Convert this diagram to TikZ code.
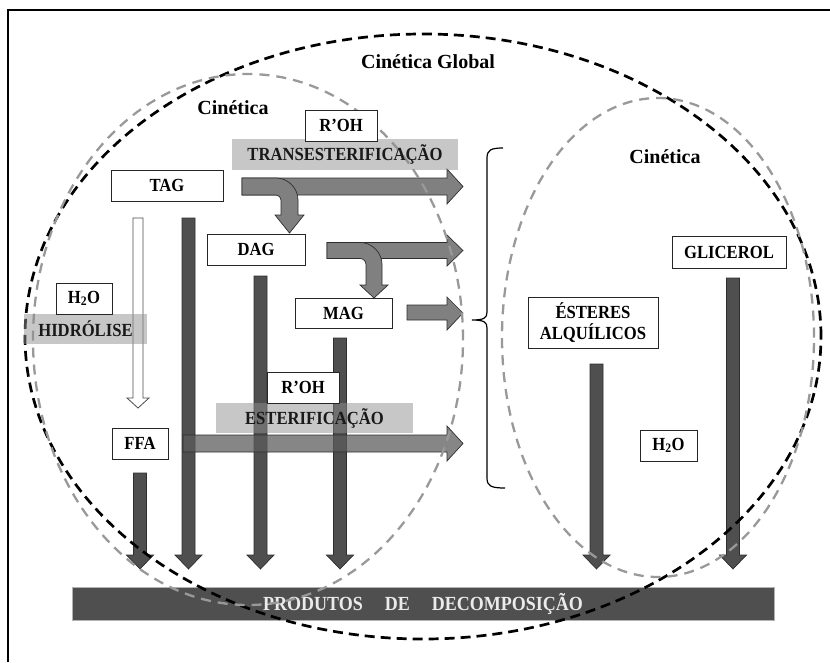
\documentclass[tikz,border=0pt]{standalone}
\usepackage{fontspec}
\setmainfont{Liberation Serif}
\newfontfamily\condf{Liberation Serif}[FakeStretch=0.9]
\newcommand\bxf{\condf\fontsize{18.5}{20.5}\selectfont\bfseries}
\newcommand\DownBar[2]{\draw[darkarrow] ({#1-6.5},#2) -- ({#1+6.5},#2) -- ({#1+6.5},555) -- ({#1+13.5},555) -- (#1,569) -- ({#1-13.5},555) -- ({#1-6.5},555) -- cycle;}
\begin{document}
\begin{tikzpicture}[x=1pt,y=-1pt]
\tikzset{
 boxn/.style={draw=black!85, line width=0.9pt, fill=white, inner sep=0pt, font=\bxf, text=black},
 bandn/.style={fill=black!44, fill opacity=0.5, text opacity=1, inner sep=0pt, font=\bxf, text=black!90},
 darkarrow/.style={fill=black!69, draw=black!82, line width=0.7pt},
 grayarrow/.style={fill=black!50, draw=black!82, line width=0.7pt},
 esterarrow/.style={fill=black!64, fill opacity=0.74, draw=black!82, line width=0.7pt},
 whitearrow/.style={fill=white, draw=black!70, line width=0.8pt},
 globalell/.style={draw=black, line width=2.7pt, dash pattern=on 10pt off 6pt},
 kinell/.style={draw=black!40, line width=2.3pt, dash pattern=on 10pt off 7pt},
 kintext/.style={font=\fontsize{20}{24}\selectfont\bfseries, inner sep=0pt}
}
\useasboundingbox (0,0) rectangle (830,662);
% frame
\draw[line width=2.4pt] (8,662) -- (8,10) -- (830,10);

% products bar
\node[fill=black!69, draw=black!30, line width=0.8pt, minimum width=702pt, minimum height=33pt, inner sep=0pt,
      font=\condf\fontsize{20}{22}\selectfont\bfseries, text=black!8] (prod) at (423,603.5)
      {PRODUTOS\hspace{22pt}DE\hspace{22pt}DECOMPOSIÇÃO};

% hydrolysis hollow arrow
\draw[whitearrow] (133,218) -- (143,218) -- (143,398) -- (149,398) -- (138,408) -- (127,398) -- (133,398) -- cycle;

% dark down arrows
\DownBar{140}{473}
\DownBar{188.5}{218}
\DownBar{260.5}{276}
\DownBar{340}{338}
\DownBar{596.5}{364}
\DownBar{733}{278}

% horizontal gray arrows
\draw[grayarrow] (242,178) -- (447,178) -- (447,169) -- (463,186.5) -- (447,204) -- (447,195) -- (242,195) -- cycle;
\draw[grayarrow] (242,178) -- (276,178) .. controls (288,178) and (298,188) .. (298,200) -- (298,215) -- (304,215) -- (289.5,233) -- (275,215) -- (281,215) -- (281,200) .. controls (281,197.2) and (278.8,195) .. (276,195) -- (242,195) -- cycle;
\draw[grayarrow] (327,242.5) -- (447,242.5) -- (447,235) -- (463,250.5) -- (447,266) -- (447,258.5) -- (327,258.5) -- cycle;
\draw[grayarrow] (327,242.5) -- (360,242.5) .. controls (372,242.5) and (382,252.5) .. (382,264.5) -- (382,285) -- (388,285) -- (374,298) -- (360,285) -- (366,285) -- (366,264.5) .. controls (366,261.2) and (363.3,258.5) .. (360,258.5) -- (327,258.5) -- cycle;
\draw[grayarrow] (407,305) -- (447,305) -- (447,297) -- (463,313) -- (447,330) -- (447,320) -- (407,320) -- cycle;
% esterification arrow
\draw[esterarrow] (183,435) -- (447,435) -- (447,426) -- (463,443.5) -- (447,461) -- (447,452) -- (183,452) -- cycle;

% kinetic regions
\draw[globalell] (423,336.5) ellipse [x radius=398pt, y radius=302.5pt];
\draw[kinell] (248,339.5) ellipse [x radius=215pt, y radius=265.5pt];
\draw[kinell] (658,337.5) ellipse [x radius=156pt, y radius=239.5pt];

% brace
\draw[line width=1.2pt] (503,148) .. controls (491,148) and (487,150) .. (487,158) -- (487,312) .. controls (487,318) and (484,320) .. (472,320)
      .. controls (484,320) and (487,322) .. (487,328) -- (487,478) .. controls (487,486) and (491,488) .. (505,488);

% bands
\node[bandn, minimum width=226pt, minimum height=31pt] (trans) at (345,154.5) {TRANSESTERIFICAÇÃO};
\node[bandn, minimum width=123pt, minimum height=30pt] (hidr) at (85.5,329) {HIDRÓLISE};
\node[bandn, minimum width=197pt, minimum height=30pt] (ester) at (314.5,418) {ESTERIFICAÇÃO};

% boxes
\node[boxn, minimum width=72pt, minimum height=31pt] (roh1) at (341,125.5) {R’OH};
\node[boxn, minimum width=112pt, minimum height=31pt] (tag) at (167,185.5) {TAG};
\node[boxn, minimum width=98pt, minimum height=31pt] (dag) at (256,249.5) {DAG};
\node[boxn, minimum width=97pt, minimum height=30pt] (mag) at (343.5,313) {MAG};
\node[boxn, minimum width=56pt, minimum height=31pt] (h2oa) at (84,298.5) {H\textsubscript{2}O};
\node[boxn, minimum width=72pt, minimum height=31pt] (roh2) at (303,387.5) {R’OH};
\node[boxn, minimum width=56pt, minimum height=31pt] (ffa) at (140,443.5) {FFA};
\node[boxn, minimum width=114pt, minimum height=32pt] (glic) at (729,252) {GLICEROL};
\node[boxn, minimum width=130pt, minimum height=51pt, align=center] (est) at (593,322.5) {ÉSTERES\\ALQUÍLICOS};
\node[boxn, minimum width=57pt, minimum height=31pt] (h2ob) at (668.5,445.5) {H\textsubscript{2}O};

% labels
\node[kintext] (cg) at (428,62) {Cinética Global};
\node[kintext] (ck1) at (233,108) {Cinética};
\node[kintext] (ck2) at (665,157) {Cinética};
\end{tikzpicture}
\end{document}
